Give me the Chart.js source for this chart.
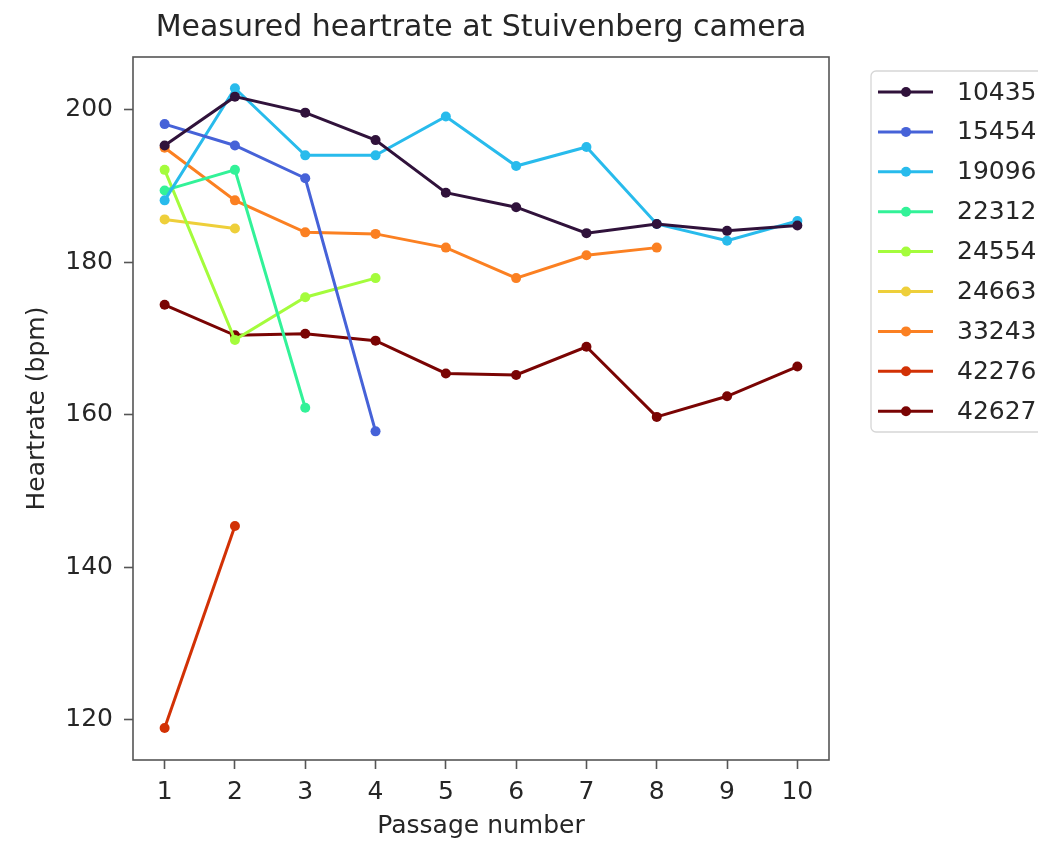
<!DOCTYPE html>
<html>
<head>
<meta charset="utf-8">
<title>Measured heartrate at Stuivenberg camera</title>
<script src="https://cdn.jsdelivr.net/npm/chart.js@4.4.1/dist/chart.umd.min.js"></script>
<style>
    html, body { margin: 0; padding: 0; background: #ffffff; }
    #wrap { width: 1038px; height: 843px; position: relative; }
</style>
</head>
<body>
<div id="wrap"><canvas id="hr-chart"></canvas></div>
<script>
// passage numbers and tick labels
const passages = [1, 2, 3, 4, 5, 6, 7, 8, 9, 10];
const yTicks = [120, 140, 160, 180, 200];

// one series per animal id
const ids = ['10435', '15454', '19096', '22312', '24554', '24663', '33243', '42276', '42627'];
const hr10435 = [195.3, 201.7, 199.6, 196.0, 189.1, 187.2, 183.8, 185.0, 184.1, 184.8];
const hr15454 = [198.1, 195.3, 191.0, 157.8];
const hr19096 = [188.1, 202.8, 194.0, 194.0, 199.1, 192.6, 195.1, 185.0, 182.8, 185.4];
const hr22312 = [189.4, 192.1, 160.9];
const hr24554 = [192.1, 169.8, 175.4, 177.9];
const hr24663 = [185.6, 184.4];
const hr33243 = [195.0, 188.1, 183.9, 183.7, 181.9, 177.9, 180.9, 181.9];
const hr42276 = [118.9, 145.4];
const hr42627 = [174.4, 170.4, 170.6, 169.7, 165.4, 165.2, 168.9, 159.7, 162.4, 166.3];

const allSeries = [hr10435, hr15454, hr19096, hr22312, hr24554, hr24663, hr33243, hr42276, hr42627];
const colors = ['#30123b', '#4662d8', '#28bbec', '#32f298', '#a4fc3c', '#eecf3a', '#fb8022', '#d23105', '#7a0403'];

const FONT = 'DejaVu Sans';
const TXT = '#262626';
const SPINE = '#555555';

const datasets = ids.map((id, i) => ({
    label: id,
    data: allSeries[i].map((v, j) => ({x: passages[j], y: v})),
    borderColor: colors[i],
    backgroundColor: colors[i],
    borderWidth: 3,
    pointRadius: 5,
    pointHoverRadius: 5,
    pointBorderWidth: 0,
    tension: 0
}));

// box around the plot like matplotlib spines
const spinesPlugin = {
    id: 'spines',
    afterDatasetsDraw(chart) {
        const {ctx, chartArea: a} = chart;
        ctx.save();
        ctx.strokeStyle = SPINE;
        ctx.lineWidth = 1.6;
        ctx.strokeRect(a.left, a.top, a.right - a.left, a.bottom - a.top);
        ctx.restore();
    }
};

// framed legend to the right of the plot
const boxLegend = {
    id: 'boxLegend',
    afterDraw(chart) {
        const ctx = chart.ctx;
        const x0 = 871, y0 = 71, w = 200, h = 361, r = 5;
        ctx.save();
        ctx.beginPath();
        ctx.moveTo(x0 + r, y0);
        ctx.arcTo(x0 + w, y0, x0 + w, y0 + h, r);
        ctx.arcTo(x0 + w, y0 + h, x0, y0 + h, r);
        ctx.arcTo(x0, y0 + h, x0, y0, r);
        ctx.arcTo(x0, y0, x0 + w, y0, r);
        ctx.closePath();
        ctx.fillStyle = 'rgba(255,255,255,0.8)';
        ctx.fill();
        ctx.strokeStyle = '#d6d6d6';
        ctx.lineWidth = 1.3;
        ctx.stroke();

        ctx.font = '25px "' + FONT + '"';
        ctx.textBaseline = 'middle';
        ctx.textAlign = 'left';
        chart.data.datasets.forEach((ds, i) => {
            const y = 92 + i * 39.9;
            ctx.strokeStyle = ds.borderColor;
            ctx.lineWidth = 3;
            ctx.beginPath();
            ctx.moveTo(878, y);
            ctx.lineTo(933, y);
            ctx.stroke();
            ctx.fillStyle = ds.borderColor;
            ctx.beginPath();
            ctx.arc(906, y, 5, 0, Math.PI * 2);
            ctx.fill();
            ctx.fillStyle = TXT;
            ctx.fillText(ds.label, 957, y + 1);
        });
        ctx.restore();
    }
};

new Chart(document.getElementById('hr-chart'), {
    type: 'line',
    data: {datasets: datasets},
    plugins: [spinesPlugin, boxLegend],
    options: {
        responsive: true,
        maintainAspectRatio: false,
        animation: false,
        layout: {padding: {top: 0, right: 209, bottom: 0, left: 0}},
        plugins: {
            legend: {display: false},
            tooltip: {enabled: false},
            title: {
                display: true,
                fullSize: false,
                text: 'Measured heartrate at Stuivenberg camera',
                color: TXT,
                font: {family: FONT, size: 30, weight: 'normal', lineHeight: 1.2},
                padding: {top: 10, bottom: 11}
            }
        },
        scales: {
            x: {
                type: 'linear',
                min: 0.55,
                max: 10.45,
                afterBuildTicks: (axis) => { axis.ticks = passages.map(v => ({value: v})); },
                afterFit: (axis) => { axis.height = 83; },
                border: {display: false},
                grid: {drawOnChartArea: false, drawTicks: true, tickLength: 9, tickColor: SPINE, tickWidth: 1.6},
                ticks: {color: TXT, font: {family: FONT, size: 25}, padding: 8, maxRotation: 0},
                title: {
                    display: true,
                    text: 'Passage number',
                    color: TXT,
                    font: {family: FONT, size: 25},
                    padding: {top: 0, bottom: 2}
                }
            },
            y: {
                type: 'linear',
                min: 114.7,
                max: 206.9,
                afterBuildTicks: (axis) => { axis.ticks = yTicks.map(v => ({value: v})); },
                afterFit: (axis) => { axis.width = 133; },
                border: {display: false},
                grid: {drawOnChartArea: false, drawTicks: true, tickLength: 9, tickColor: SPINE, tickWidth: 1.6},
                ticks: {color: TXT, font: {family: FONT, size: 25}, padding: 11},
                title: {
                    display: true,
                    text: 'Heartrate (bpm)',
                    color: TXT,
                    font: {family: FONT, size: 25},
                    padding: {top: 22, bottom: 0}
                }
            }
        }
    }
});
</script>
</body>
</html>
